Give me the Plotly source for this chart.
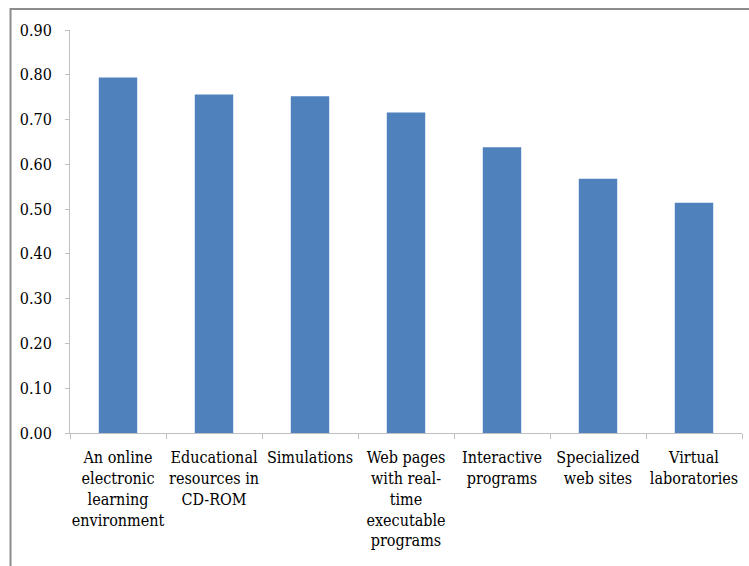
import plotly.graph_objects as go

categories = [
    "An online<br>electronic<br>learning<br>environment",
    "Educational<br>resources in<br>CD-ROM",
    "Simulations",
    "Web pages<br>with real-<br>time<br>executable<br>programs",
    "Interactive<br>programs",
    "Specialized<br>web sites",
    "Virtual<br>laboratories",
]
values = [0.794, 0.756, 0.752, 0.716, 0.638, 0.568, 0.514]
y_ticks = [0.0, 0.1, 0.2, 0.3, 0.4, 0.5, 0.6, 0.7, 0.8, 0.9]
y_tick_labels = ["%.2f" % v for v in y_ticks]

fig = go.Figure(go.Bar(x=categories, y=values, marker=dict(color="#4F81BD", line=dict(width=0))))

font = dict(family="DejaVu Serif Condensed", size=16, color="#000000")
fig.update_layout(
    width=749, height=566,
    margin=dict(l=70, r=7, t=30, b=133),
    paper_bgcolor="white", plot_bgcolor="white",
    bargap=0.6, showlegend=False, font=font,
    xaxis=dict(showline=True, linecolor="#BFBFBF", linewidth=1, ticks="outside", tickson="boundaries",
               ticklen=5, tickcolor="#BFBFBF", showgrid=False, tickangle=0, tickfont=font,
               ticklabelstandoff=10),
    yaxis=dict(range=[0, 0.9], tickvals=y_ticks, ticktext=y_tick_labels, showline=True,
               linecolor="#BFBFBF", linewidth=1, ticks="outside", ticklen=4, tickcolor="#BFBFBF",
               showgrid=False, zeroline=False, tickfont=font, ticklabelstandoff=10),
)
# chart frame (partially cropped in the reference)
fig.add_shape(type="rect", xref="paper", yref="paper", x0=-0.0885, x1=1.2, y0=-0.6, y1=1.052,
              line=dict(color="#8C8C8C", width=2), fillcolor="rgba(0,0,0,0)", layer="below")
fig.write_html("out.html")
